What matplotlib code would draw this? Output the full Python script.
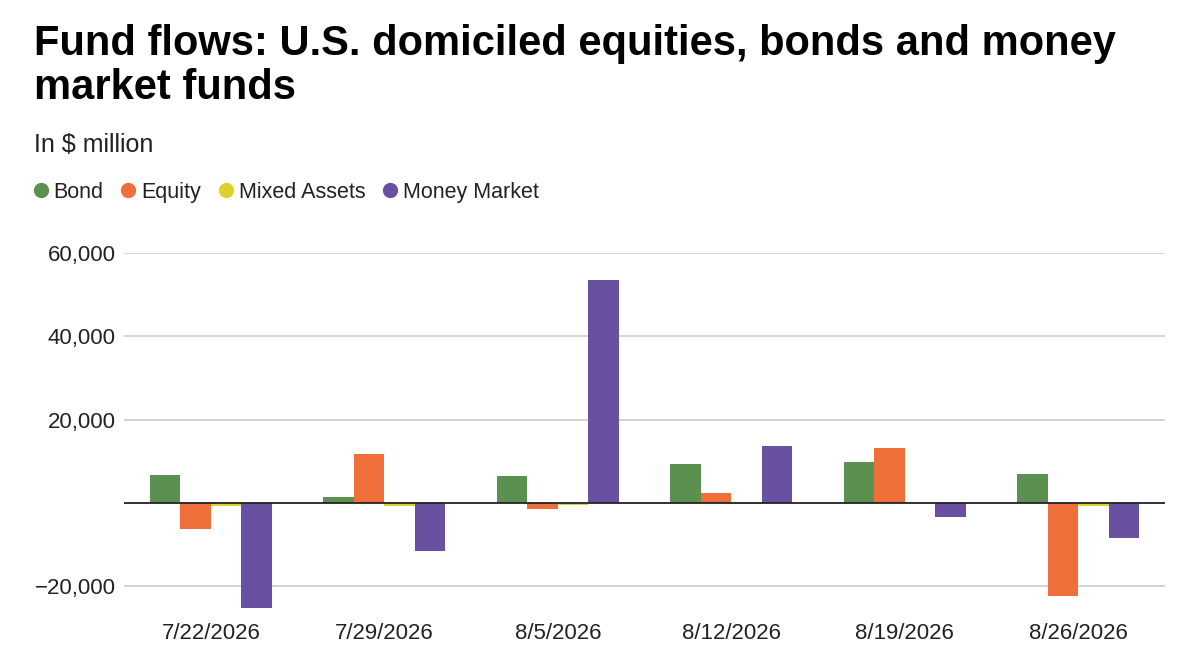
import matplotlib
matplotlib.use("Agg")
import matplotlib.pyplot as plt
from matplotlib.lines import Line2D
from matplotlib.ticker import FuncFormatter
import numpy as np

plt.rcParams['font.family'] = ['Liberation Sans', 'DejaVu Sans']

weeks = ['7/22/2026', '7/29/2026', '8/5/2026', '8/12/2026', '8/19/2026', '8/26/2026']
series_names = ['Bond', 'Equity', 'Mixed Assets', 'Money Market']
bond = [6700, 1300, 6500, 9300, 9800, 6900]
equity = [-6400, 11700, -1400, 2400, 13100, -22400]
mixed_assets = [-900, -900, -600, -400, -100, -900]
money_market = [-25300, -11600, 53500, 13600, -3500, -8500]
colors = ['#5a9150', '#ee6f3a', '#e0d02e', '#6950a1']

values = [bond, equity, mixed_assets, money_market]

fig = plt.figure(figsize=(11.82, 6.54), dpi=100)
ax = fig.add_axes([0.105, 0.0703, 0.8806, 0.5427])

x = np.arange(len(weeks))
bar_w = 0.176
for i, (name, vals, col) in enumerate(zip(series_names, values, colors)):
    ax.bar(x + (i - 1.5) * bar_w, vals, width=bar_w, color=col, label=name, zorder=3)

ax.set_xlim(-0.5, len(weeks) - 0.5)
ax.set_ylim(-25300, 60000)
ax.set_yticks([-20000, 20000, 40000, 60000])
ax.yaxis.set_major_formatter(FuncFormatter(lambda v, p: f'{v:,.0f}'.replace('-', '\u2212')))
ax.grid(axis='y', color='#d0d0d0', linewidth=1.3, zorder=0)
ax.axhline(0, color='#222222', linewidth=1.3, zorder=4)
ax.set_xticks(x)
ax.set_xticklabels(weeks)
ax.tick_params(axis='both', length=0, labelsize=16, colors='#222222')
ax.tick_params(axis='x', pad=11)
ax.tick_params(axis='y', pad=6)
for s in ax.spines.values():
    s.set_visible(False)

fig.text(0.029, 0.916, 'Fund flows: U.S. domiciled equities, bonds and money',
         fontsize=30, fontweight='bold', color='#000000', va='baseline')
fig.text(0.029, 0.848, 'market funds',
         fontsize=30, fontweight='bold', color='#000000', va='baseline')
fig.text(0.029, 0.768, 'In $ million', fontsize=18, color='#222222', va='baseline')

handles = [Line2D([], [], marker='o', linestyle='', markersize=10, color=c) for c in colors]
fig.legend(handles, series_names, loc='upper left', bbox_to_anchor=(0.017, 0.735),
           ncol=4, frameon=False, fontsize=15.5, handletextpad=0.05, columnspacing=0.6,
           handlelength=1.1, borderaxespad=0, labelcolor='#222222')

fig.savefig('out.png', dpi=100)
